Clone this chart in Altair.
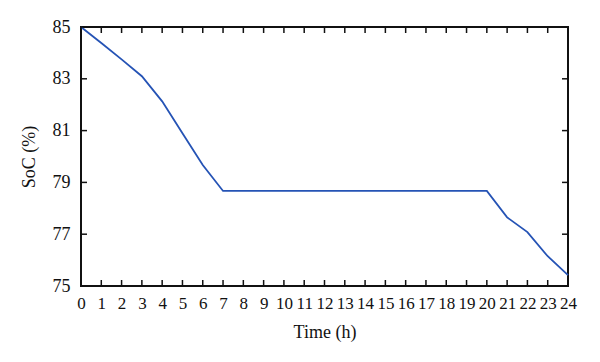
import altair as alt
import pandas as pd

hours = list(range(25))
soc = [85.0, 84.38, 83.75, 83.1, 82.13, 80.9, 79.67, 78.67, 78.67, 78.67, 78.67,
       78.67, 78.67, 78.67, 78.67, 78.67, 78.67, 78.67, 78.67, 78.67, 78.67,
       77.65, 77.08, 76.15, 75.42]
x_ticks = list(range(25))
y_ticks = [75, 77, 79, 81, 83, 85]

W, H = 487, 259
FONT = "Liberation Serif"

df = pd.DataFrame({"t": hours, "soc": soc})
xt = pd.DataFrame({"t": x_ticks})
yt = pd.DataFrame({"soc": y_ticks})

xs = alt.Scale(domain=[0, 24], nice=False, zero=False)
ys = alt.Scale(domain=[75, 85], nice=False, zero=False)

x_axis = alt.Axis(title="Time (h)", values=x_ticks, format="d", ticks=False,
                  domain=False, grid=False, labelPadding=9, labelFontSize=17,
                  titleFontSize=18, titlePadding=12, labelFont=FONT,
                  titleFont=FONT, titleFontWeight="normal", labelColor="#111",
                  titleColor="#111", labelFlush=False, labelOverlap=False)
y_axis = alt.Axis(title="SoC (%)", values=y_ticks, format="d", ticks=False,
                  domain=False, grid=False, labelPadding=11, labelFontSize=18,
                  titleFontSize=18, titlePadding=14, labelFont=FONT,
                  titleFont=FONT, titleFontWeight="normal", labelColor="#111",
                  titleColor="#111", labelFlush=False, labelOverlap=False)

line = alt.Chart(df).mark_line(color="#2553b5", strokeWidth=1.8).encode(
    x=alt.X("t:Q", scale=xs, axis=x_axis),
    y=alt.Y("soc:Q", scale=ys, axis=y_axis),
)

tick_len = 6
bottom_ticks = alt.Chart(xt).mark_rule(color="#111", strokeWidth=1.5).encode(
    x=alt.X("t:Q", scale=xs, axis=x_axis), y=alt.value(H), y2=alt.value(H - tick_len))
top_ticks = alt.Chart(xt).mark_rule(color="#111", strokeWidth=1.5).encode(
    x=alt.X("t:Q", scale=xs, axis=x_axis), y=alt.value(0), y2=alt.value(tick_len))
left_ticks = alt.Chart(yt).mark_rule(color="#111", strokeWidth=1.5).encode(
    y=alt.Y("soc:Q", scale=ys, axis=y_axis), x=alt.value(0), x2=alt.value(tick_len))
right_ticks = alt.Chart(yt).mark_rule(color="#111", strokeWidth=1.5).encode(
    y=alt.Y("soc:Q", scale=ys, axis=y_axis), x=alt.value(W), x2=alt.value(W - tick_len))

chart = alt.layer(line, bottom_ticks, top_ticks, left_ticks, right_ticks).properties(
    width=W, height=H,
    autosize=alt.AutoSizeParams(type="none"),
    padding={"left": 73, "top": 19, "right": 20, "bottom": 60},
).configure_view(stroke="#111", strokeWidth=2)

chart.save("out.html", embed_options={"renderer": "svg", "actions": False})
